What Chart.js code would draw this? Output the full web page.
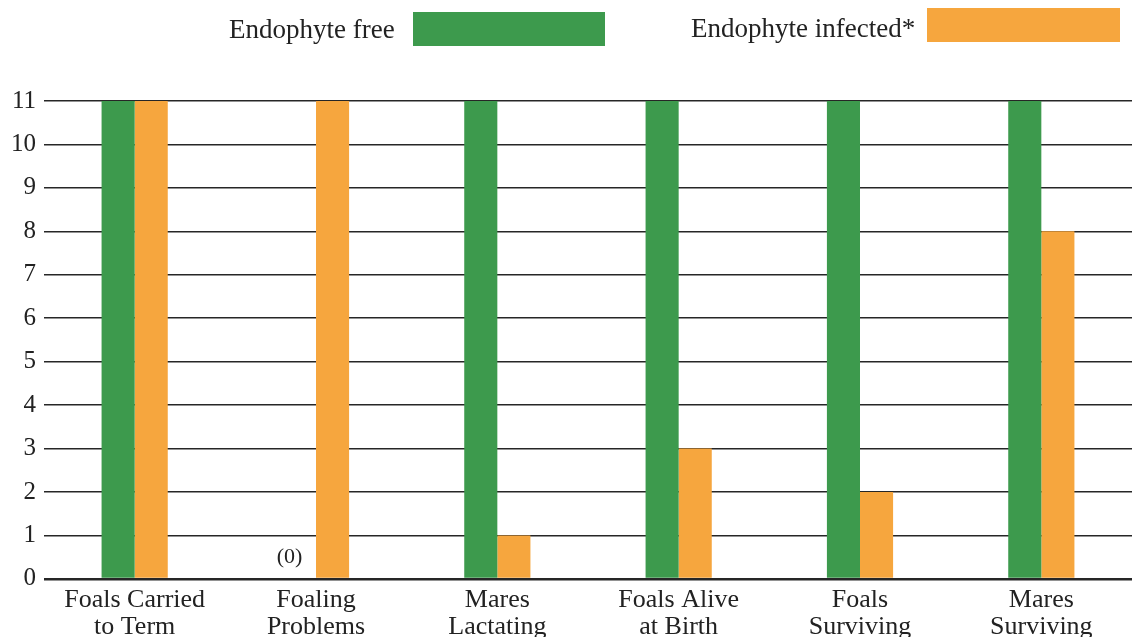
<!DOCTYPE html>
<html lang="en">
<head>
    <meta charset="UTF-8">
    <title>Endophyte Chart</title>
    <script src="https://cdn.jsdelivr.net/npm/chart.js"></script>
<style>
    body {
        margin: 0;
        background: #ffffff;
        font-family: 'Liberation Serif', serif;
        overflow: hidden;
    }
    #wrap {
        position: absolute;
        left: 0; top: 0;
        width: 1132px; height: 641px;
    }
    .lg-text {
        position: absolute;
        font-size: 27px;
        color: #222;
        line-height: 1;
    }
    .lg-box {
        position: absolute;
        height: 34px;
    }
</style>
</head>
<body>
<div id="wrap">
    <canvas id="endoChart"></canvas>
</div>
<div class="lg-text" style="left:229px; top:16px;">Endophyte free</div>
<div class="lg-box" style="left:413px; top:12px; width:192px; background:#3d9a4d;"></div>
<div class="lg-text" style="left:691px; top:15px;">Endophyte infected*</div>
<div class="lg-box" style="left:927px; top:8px; width:193px; background:#f6a63e;"></div>

<script>
    // values
    const categories = [
        ['Foals Carried', 'to Term'],
        ['Foaling', 'Problems'],
        ['Mares', 'Lactating'],
        ['Foals Alive', 'at Birth'],
        ['Foals', 'Surviving'],
        ['Mares', 'Surviving']
    ];
    const freeValues = [11, 0, 11, 11, 11, 11];
    const infectedValues = [11, 11, 1, 3, 2, 8];
    const yTicks = [0, 1, 2, 3, 4, 5, 6, 7, 8, 9, 10, 11];

    // "(0)" note over the empty green bar
    const zeroNote = {
        id: 'zeroNote',
        afterDatasetsDraw(chart) {
            const ctx = chart.ctx;
            const meta = chart.getDatasetMeta(0);
            const y = chart.scales.y.getPixelForValue(0);
            ctx.save();
            ctx.font = '22px "Liberation Serif", serif';
            ctx.fillStyle = '#222';
            ctx.textAlign = 'center';
            ctx.textBaseline = 'bottom';
            freeValues.forEach((v, i) => {
                if (v === 0) ctx.fillText('(0)', meta.data[i].x - 10, y - 11);
            });
            ctx.restore();
        }
    };

    const canvas = document.getElementById('endoChart');
    canvas.width = 1132;
    canvas.height = 641;

    new Chart(canvas.getContext('2d'), {
        type: 'bar',
        data: {
            labels: categories,
            datasets: [{
                label: 'Endophyte free',
                data: freeValues,
                backgroundColor: '#3d9a4d',
                borderWidth: 0
            }, {
                label: 'Endophyte infected*',
                data: infectedValues,
                backgroundColor: '#f6a63e',
                borderWidth: 0
            }]
        },
        options: {
            responsive: false,
            animation: false,
            categoryPercentage: 0.365,
            barPercentage: 1,
            layout: { padding: { top: 101, left: 2, right: 0, bottom: 0 } },
            plugins: {
                legend: { display: false },
                tooltip: { enabled: false }
            },
            scales: {
                x: {
                    grid: { display: false },
                    border: { display: false },
                    ticks: {
                        color: '#222',
                        padding: 0,
                        maxRotation: 0,
                        autoSkip: false,
                        font: { family: 'Liberation Serif', size: 26, lineHeight: 1.04 }
                    }
                },
                y: {
                    min: 0,
                    max: 11,
                    z: 1,
                    afterBuildTicks(scale) {
                        scale.ticks = yTicks.map(v => ({ value: v }));
                    },
                    afterFit(scale) { scale.width = 42; },
                    grid: {
                        color: '#262626',
                        lineWidth: ctx => ctx.tick && ctx.tick.value === 0 ? 2.5 : 1.5,
                        drawTicks: false
                    },
                    border: { display: false },
                    ticks: {
                        color: '#222',
                        padding: 8,
                        font: { family: 'Liberation Serif', size: 25 }
                    }
                }
            }
        },
        plugins: [zeroNote]
    });
</script>
</body>
</html>
